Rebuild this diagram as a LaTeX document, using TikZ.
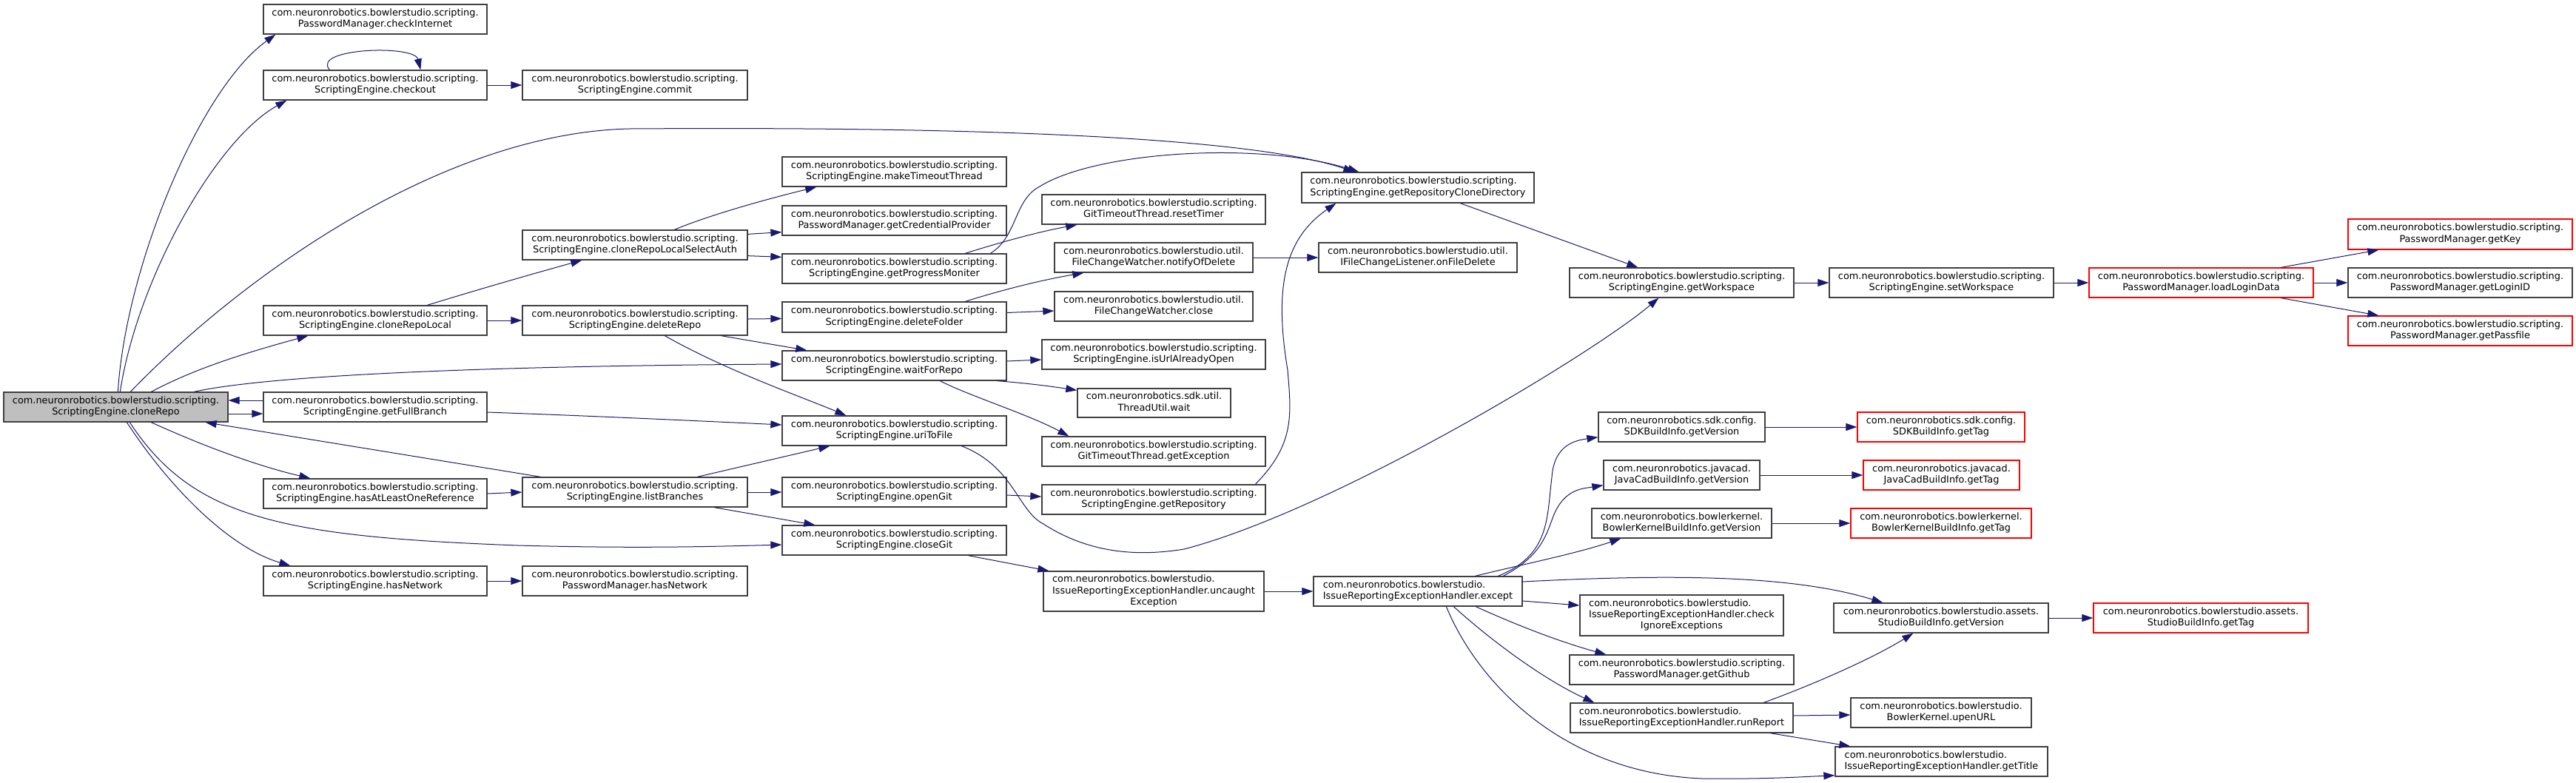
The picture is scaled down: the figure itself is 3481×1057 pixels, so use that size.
\documentclass[tikz,border=0pt]{standalone}
\usepackage{fontspec}
\setmainfont{DejaVu Sans}
\usetikzlibrary{arrows.meta,calc}
\definecolor{edgec}{HTML}{191970}
\definecolor{boxc}{HTML}{404040}
\definecolor{graybg}{HTML}{BFBFBF}
\definecolor{redc}{HTML}{FF0000}
\newcommand{\dxtwo}[2]{\begin{tabular}{@{}c@{}}\multicolumn{1}{@{}l@{}}{#1}\\#2\end{tabular}}
\newcommand{\dxthree}[3]{\begin{tabular}{@{}c@{}}\multicolumn{1}{@{}l@{}}{#1}\\\multicolumn{1}{@{}l@{}}{#2}\\#3\end{tabular}}
\newcommand{\SCp}{com.neuronrobotics.bowlerstudio.scripting.}
\newcommand{\BSp}{com.neuronrobotics.bowlerstudio.}
\newcommand{\mkbox}[7]{\node[dbox,#2,minimum width={(#5-#3)*0.5pt},minimum height={(#6-#4)*0.5pt}] (#1) at ({(#3+#5)/2},{(#4+#6)/2}) {#7};}
\begin{document}
\begin{tikzpicture}[x=0.5pt,y=-0.5pt,
  dbox/.style={rectangle,draw=boxc,fill=white,line width=0.65pt,inner sep=0pt,font=\fontsize{6.44}{7.6}\selectfont},
  grayed/.style={fill=graybg},
  redbox/.style={draw=redc},
  plain/.style={},
  conn/.style={draw=edgec,line width=0.5pt,-{Triangle[length=7.5pt,width=5pt]}}]
\fill[white] (0,0) rectangle (3481,1057);
\useasboundingbox (0,0) rectangle (3481,1057);

% nodes
\mkbox{cloneRepo}{grayed}{5}{530}{308}{570}{\dxtwo{\SCp}{ScriptingEngine.cloneRepo}}
\mkbox{checkInternet}{plain}{356}{6}{658}{46}{\dxtwo{\SCp}{PasswordManager.checkInternet}}
\mkbox{checkout}{plain}{356}{95}{658}{135}{\dxtwo{\SCp}{ScriptingEngine.checkout}}
\mkbox{cloneRepoLocal}{plain}{356}{413}{658}{453}{\dxtwo{\SCp}{ScriptingEngine.cloneRepoLocal}}
\mkbox{getFullBranch}{plain}{356}{530}{658}{570}{\dxtwo{\SCp}{ScriptingEngine.getFullBranch}}
\mkbox{hasAtLeast}{plain}{356}{647}{658}{687}{\dxtwo{\SCp}{ScriptingEngine.hasAtLeastOneReference}}
\mkbox{seHasNetwork}{plain}{356}{765}{658}{805}{\dxtwo{\SCp}{ScriptingEngine.hasNetwork}}
\mkbox{commit}{plain}{706}{95}{1010}{135}{\dxtwo{\SCp}{ScriptingEngine.commit}}
\mkbox{selectAuth}{plain}{706}{311}{1010}{351}{\dxtwo{\SCp}{ScriptingEngine.cloneRepoLocalSelectAuth}}
\mkbox{deleteRepo}{plain}{706}{413}{1010}{453}{\dxtwo{\SCp}{ScriptingEngine.deleteRepo}}
\mkbox{listBranches}{plain}{706}{645}{1010}{685}{\dxtwo{\SCp}{ScriptingEngine.listBranches}}
\mkbox{pmHasNetwork}{plain}{706}{765}{1010}{805}{\dxtwo{\SCp}{PasswordManager.hasNetwork}}
\mkbox{makeTimeout}{plain}{1057}{212}{1360}{252}{\dxtwo{\SCp}{ScriptingEngine.makeTimeoutThread}}
\mkbox{credProv}{plain}{1057}{278}{1360}{318}{\dxtwo{\SCp}{PasswordManager.getCredentialProvider}}
\mkbox{progMon}{plain}{1057}{343}{1360}{383}{\dxtwo{\SCp}{ScriptingEngine.getProgressMoniter}}
\mkbox{deleteFolder}{plain}{1057}{408}{1360}{449}{\dxtwo{\SCp}{ScriptingEngine.deleteFolder}}
\mkbox{waitForRepo}{plain}{1057}{474}{1360}{514}{\dxtwo{\SCp}{ScriptingEngine.waitForRepo}}
\mkbox{uriToFile}{plain}{1057}{562}{1360}{602}{\dxtwo{\SCp}{ScriptingEngine.uriToFile}}
\mkbox{openGit}{plain}{1057}{645}{1360}{685}{\dxtwo{\SCp}{ScriptingEngine.openGit}}
\mkbox{closeGit}{plain}{1057}{710}{1360}{750}{\dxtwo{\SCp}{ScriptingEngine.closeGit}}
\mkbox{resetTimer}{plain}{1408}{263}{1710}{303}{\dxtwo{\SCp}{GitTimeoutThread.resetTimer}}
\mkbox{notifyDel}{plain}{1425}{328}{1693}{368}{\dxtwo{com.neuronrobotics.bowlerstudio.util.}{FileChangeWatcher.notifyOfDelete}}
\mkbox{fcwClose}{plain}{1425}{394}{1693}{434}{\dxtwo{com.neuronrobotics.bowlerstudio.util.}{FileChangeWatcher.close}}
\mkbox{isUrlOpen}{plain}{1408}{459}{1710}{499}{\dxtwo{\SCp}{ScriptingEngine.isUrlAlreadyOpen}}
\mkbox{threadWait}{plain}{1456}{525}{1663}{564}{\dxtwo{com.neuronrobotics.sdk.util.}{ThreadUtil.wait}}
\mkbox{getExc}{plain}{1408}{590}{1710}{630}{\dxtwo{\SCp}{GitTimeoutThread.getException}}
\mkbox{getRepo}{plain}{1408}{655}{1710}{695}{\dxtwo{\SCp}{ScriptingEngine.getRepository}}
\mkbox{uncaught}{plain}{1410}{772}{1708}{826}{\dxthree{\BSp}{IssueReportingExceptionHandler.uncaught}{Exception}}
\mkbox{rcd}{plain}{1759}{233}{2073}{274}{\dxtwo{\SCp}{ScriptingEngine.getRepositoryCloneDirectory}}
\mkbox{onFileDel}{plain}{1782}{328}{2050}{368}{\dxtwo{com.neuronrobotics.bowlerstudio.util.}{IFileChangeListener.onFileDelete}}
\mkbox{except}{plain}{1775}{779}{2057}{819}{\dxtwo{\BSp}{IssueReportingExceptionHandler.except}}
\mkbox{getWs}{plain}{2121}{362}{2424}{402}{\dxtwo{\SCp}{ScriptingEngine.getWorkspace}}
\mkbox{setWs}{plain}{2472}{362}{2775}{402}{\dxtwo{\SCp}{ScriptingEngine.setWorkspace}}
\mkbox{sdkVer}{plain}{2160}{557}{2385}{597}{\dxtwo{com.neuronrobotics.sdk.config.}{SDKBuildInfo.getVersion}}
\mkbox{jcVer}{plain}{2167}{622}{2378}{662}{\dxtwo{com.neuronrobotics.javacad.}{JavaCadBuildInfo.getVersion}}
\mkbox{bkVer}{plain}{2151}{687}{2394}{727}{\dxtwo{com.neuronrobotics.bowlerkernel.}{BowlerKernelBuildInfo.getVersion}}
\mkbox{checkIgn}{plain}{2135}{804}{2410}{859}{\dxthree{\BSp}{IssueReportingExceptionHandler.check}{IgnoreExceptions}}
\mkbox{getGithub}{plain}{2121}{885}{2424}{925}{\dxtwo{\SCp}{PasswordManager.getGithub}}
\mkbox{runReport}{plain}{2122}{950}{2423}{990}{\dxtwo{\BSp}{IssueReportingExceptionHandler.runReport}}
\mkbox{sdkTag}{redbox}{2510}{557}{2736}{597}{\dxtwo{com.neuronrobotics.sdk.config.}{SDKBuildInfo.getTag}}
\mkbox{jcTag}{redbox}{2518}{622}{2729}{662}{\dxtwo{com.neuronrobotics.javacad.}{JavaCadBuildInfo.getTag}}
\mkbox{bkTag}{redbox}{2501}{687}{2745}{727}{\dxtwo{com.neuronrobotics.bowlerkernel.}{BowlerKernelBuildInfo.getTag}}
\mkbox{studioVer}{plain}{2478}{815}{2768}{855}{\dxtwo{com.neuronrobotics.bowlerstudio.assets.}{StudioBuildInfo.getVersion}}
\mkbox{upenURL}{plain}{2501}{943}{2745}{983}{\dxtwo{\BSp}{BowlerKernel.upenURL}}
\mkbox{getTitle}{plain}{2480}{1009}{2767}{1049}{\dxtwo{\BSp}{IssueReportingExceptionHandler.getTitle}}
\mkbox{studioTag}{redbox}{2829}{815}{3119}{855}{\dxtwo{com.neuronrobotics.bowlerstudio.assets.}{StudioBuildInfo.getTag}}
\mkbox{loadLogin}{redbox}{2823}{362}{3126}{402}{\dxtwo{\SCp}{PasswordManager.loadLoginData}}
\mkbox{getKey}{redbox}{3173}{296}{3476}{337}{\dxtwo{\SCp}{PasswordManager.getKey}}
\mkbox{getLoginID}{plain}{3173}{362}{3476}{402}{\dxtwo{\SCp}{PasswordManager.getLoginID}}
\mkbox{getPassfile}{redbox}{3173}{427}{3476}{467}{\dxtwo{\SCp}{PasswordManager.getPassfile}}

% edges from cloneRepo
\draw[conn] ($(cloneRepo.north west)+(155,0)$) .. controls (170,360) and (270,120) .. ($(checkInternet.south west)+(17,0)$);
\draw[conn] ($(cloneRepo.north west)+(158,0)$) .. controls (185,380) and (290,190) .. ($(checkout.south west)+(32,0)$);
\draw[conn] ($(cloneRepo.north west)+(172,0)$) .. controls (330,370) and (600,180) .. (850,174) .. controls (1450,170) and (1720,195) .. ($(rcd.north west)+(72,0)$);
\draw[conn] ($(cloneRepo.north west)+(200,0)$) .. controls (260,500) and (320,480) .. ($(cloneRepoLocal.south west)+(61,0)$);
\draw[conn] ($(cloneRepo.north west)+(258,0)$) .. controls (350,510) and (600,495) .. ($(waitForRepo.west)+(0,-2)$);
\draw[conn] ($(getFullBranch.west)+(0,-9)$) -- ($(cloneRepo.east)+(0,-9)$);
\draw[conn] ($(cloneRepo.east)+(0,9)$) -- ($(getFullBranch.west)+(0,9)$);
\draw[conn] ($(listBranches.north west)+(25,0)$) -- ($(cloneRepo.south east)+(-31,0)$);
\draw[conn] ($(cloneRepo.south west)+(200,0)$) .. controls (280,605) and (350,630) .. ($(hasAtLeast.north west)+(64,0)$);
\draw[conn] ($(cloneRepo.south west)+(171,0)$) .. controls (260,700) and (380,725) .. (700,737) .. controls (850,741) and (950,739) .. ($(closeGit.west)+(0,6)$);
\draw[conn] ($(cloneRepo.south west)+(167,0)$) .. controls (230,660) and (310,740) .. ($(seHasNetwork.north west)+(37,0)$);

% column 1
\draw[conn] ($(checkout.north west)+(90,0)$) .. controls (420,65) and (560,60) .. ($(checkout.north west)+(213,0)$);
\draw[conn] (checkout.east) -- (commit.west);
\draw[conn] ($(cloneRepoLocal.north west)+(222,0)$) .. controls (650,390) and (720,370) .. ($(selectAuth.south west)+(81,0)$);
\draw[conn] (cloneRepoLocal.east) -- (deleteRepo.west);
\draw[conn] ($(getFullBranch.east)+(0,7)$) .. controls (800,562) and (950,569) .. ($(uriToFile.west)+(0,-8)$);
\draw[conn] (hasAtLeast.east) -- (listBranches.west);
\draw[conn] (seHasNetwork.east) -- (pmHasNetwork.west);

% column 2
\draw[conn] ($(selectAuth.north west)+(206,0)$) .. controls (960,290) and (1040,268) .. ($(makeTimeout.south west)+(47,0)$);
\draw[conn] ($(selectAuth.north east)+(0,6)$) -- ($(credProv.south west)+(0,-5)$);
\draw[conn] ($(selectAuth.south east)+(0,-6)$) -- ($(progMon.north west)+(0,5)$);
\draw[conn] ($(deleteRepo.east)+(0,-2)$) -- ($(deleteFolder.west)+(0,2)$);
\draw[conn] ($(deleteRepo.south west)+(269,0)$) -- ($(waitForRepo.north west)+(34,0)$);
\draw[conn] ($(deleteRepo.south west)+(193,0)$) .. controls (980,500) and (1080,535) .. ($(uriToFile.north west)+(87,0)$);
\draw[conn] ($(listBranches.north west)+(237,0)$) -- ($(uriToFile.south west)+(65,0)$);
\draw[conn] (listBranches.east) -- (openGit.west);
\draw[conn] ($(listBranches.south west)+(260,0)$) -- ($(closeGit.north west)+(45,0)$);

% column 3
\draw[conn] ($(progMon.north west)+(248,0)$) .. controls (1350,328) and (1400,314) .. ($(resetTimer.south west)+(48,0)$);
\draw[conn] ($(progMon.north west)+(282,0)$) .. controls (1375,320) and (1370,270) .. (1405,252) .. controls (1480,205) and (1700,190) .. ($(rcd.north west)+(78,0)$);
\draw[conn] ($(deleteFolder.north west)+(248,0)$) .. controls (1360,390) and (1410,378) .. ($(notifyDel.south west)+(40,0)$);
\draw[conn] ($(deleteFolder.east)+(0,-6)$) -- ($(fcwClose.west)+(0,6)$);
\draw[conn] ($(waitForRepo.east)+(0,-6)$) -- ($(isUrlOpen.west)+(0,7)$);
\draw[conn] ($(waitForRepo.south east)+(-13,0)$) .. controls (1390,518) and (1420,522) .. ($(threadWait.north west)+(0,3)$);
\draw[conn] ($(waitForRepo.south west)+(214,0)$) .. controls (1310,535) and (1390,560) .. ($(getExc.north west)+(37,0)$);
\draw[conn] ($(uriToFile.south west)+(243,0)$) .. controls (1370,630) and (1375,690) .. (1410,708) .. controls (1460,740) and (1520,755) .. (1600,742) .. controls (1800,690) and (2150,480) .. ($(getWs.south west)+(121,0)$);
\draw[conn] ($(openGit.east)+(0,4)$) -- ($(getRepo.west)+(0,-4)$);
\draw[conn] ($(closeGit.south west)+(252,0)$) -- ($(uncaught.north west)+(8,0)$);

% column 4
\draw[conn] (notifyDel.east) -- (onFileDel.west);
\draw[conn] ($(getRepo.north west)+(289,0)$) .. controls (1750,600) and (1745,560) .. (1740,500) .. controls (1720,380) and (1740,320) .. ($(rcd.south west)+(47,0)$);
\draw[conn] (uncaught.east) -- (except.west);
\draw[conn] ($(rcd.south west)+(215,0)$) -- ($(getWs.north west)+(93,0)$);
\draw[conn] (getWs.east) -- (setWs.west);
\draw[conn] (setWs.east) -- (loadLogin.west);
\draw[conn] ($(loadLogin.north west)+(260,0)$) -- ($(getKey.south west)+(42,0)$);
\draw[conn] (loadLogin.east) -- (getLoginID.west);
\draw[conn] ($(loadLogin.south west)+(260,0)$) -- ($(getPassfile.north west)+(42,0)$);

% from except
\draw[conn] ($(except.north west)+(250,0)$) .. controls (2095,750) and (2090,700) .. (2097,645) .. controls (2100,600) and (2130,595) .. ($(sdkVer.south west)+(0,-7)$);
\draw[conn] ($(except.north west)+(257,0)$) .. controls (2085,750) and (2090,720) .. (2100,695) .. controls (2115,660) and (2140,660) .. ($(jcVer.south west)+(0,-7)$);
\draw[conn] ($(except.north west)+(219,0)$) .. controls (2060,762) and (2130,748) .. ($(bkVer.south west)+(40,0)$);
\draw[conn] ($(except.east)+(0,-13)$) .. controls (2250,776) and (2420,776) .. ($(studioVer.north west)+(67,0)$);
\draw[conn] ($(except.east)+(0,13)$) -- ($(checkIgn.west)+(0,-13.5)$);
\draw[conn] ($(except.south west)+(220,0)$) .. controls (2050,845) and (2110,868) .. ($(getGithub.north west)+(50,0)$);
\draw[conn] ($(except.south west)+(190,0)$) .. controls (2020,870) and (2090,920) .. ($(runReport.north west)+(33,0)$);
\draw[conn] ($(except.south west)+(180,0)$) .. controls (2000,930) and (2120,1045) .. (2300,1052) .. controls (2380,1053) and (2430,1050) .. ($(getTitle.south west)+(0,-2)$);
\draw[conn] ($(runReport.north west)+(262,0)$) .. controls (2450,925) and (2530,890) .. ($(studioVer.south west)+(108,0)$);
\draw[conn] ($(runReport.east)+(0,-3)$) -- ($(upenURL.west)+(0,3)$);
\draw[conn] ($(runReport.south west)+(271,0)$) -- ($(getTitle.north west)+(21,0)$);
\draw[conn] (sdkVer.east) -- (sdkTag.west);
\draw[conn] (jcVer.east) -- (jcTag.west);
\draw[conn] (bkVer.east) -- (bkTag.west);
\draw[conn] (studioVer.east) -- (studioTag.west);
\end{tikzpicture}
\end{document}
